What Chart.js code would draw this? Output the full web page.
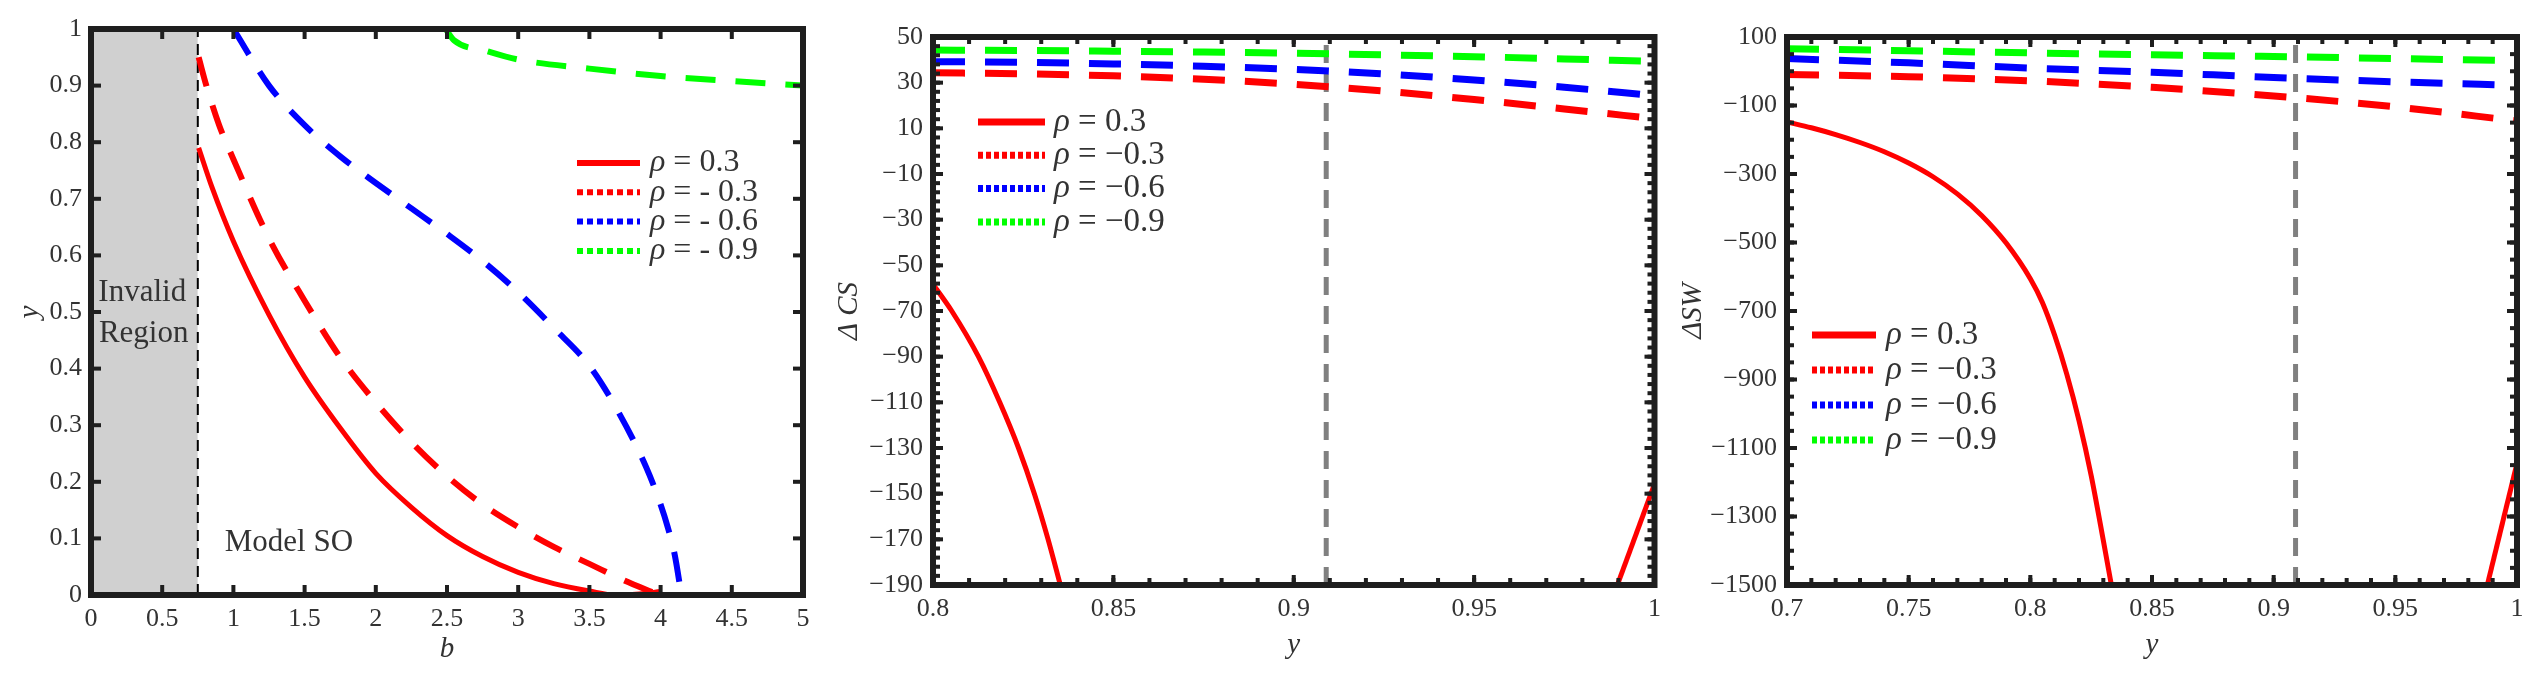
<!DOCTYPE html>
<html>
<head>
<meta charset="utf-8">
<script src="https://cdn.jsdelivr.net/npm/chart.js@4.4.0/dist/chart.umd.min.js"></script>
<style>
html, body { margin: 0; padding: 0; background: #fff; }
#wrap { position: relative; width: 2535px; height: 673px; overflow: hidden; }
.panel { position: absolute; top: 0; height: 673px; }
</style>
</head>
<body>
<div id="wrap">
  <div class="panel" style="left:0;width:820px"><canvas id="c1"></canvas></div>
  <div class="panel" style="left:820px;width:850px"><canvas id="c2"></canvas></div>
  <div class="panel" style="left:1670px;width:865px"><canvas id="c3"></canvas></div>
</div>
<script>
// ---- panel 1: y against b ----
var bTicks = [0, 0.5, 1, 1.5, 2, 2.5, 3, 3.5, 4, 4.5, 5];
var bTickLabels = ["0", "0.5", "1", "1.5", "2", "2.5", "3", "3.5", "4", "4.5", "5"];
var y1Ticks = [0, 0.1, 0.2, 0.3, 0.4, 0.5, 0.6, 0.7, 0.8, 0.9, 1];
var y1TickLabels = ["0", "0.1", "0.2", "0.3", "0.4", "0.5", "0.6", "0.7", "0.8", "0.9", "1"];
var invalidB = 0.75;

var b_p03 = [0.756, 0.85, 1.0, 1.25, 1.5, 1.75, 2.0, 2.25, 2.5, 2.75, 3.0, 3.25, 3.5, 3.68, 3.85, 4.0];
var y_p03 = [0.79, 0.72, 0.625, 0.495, 0.385, 0.295, 0.215, 0.155, 0.105, 0.068, 0.04, 0.02, 0.007, 0.0, 0.002, 0.006];
var b_m03 = [0.756, 0.81, 0.9, 1.0, 1.25, 1.5, 1.75, 2.0, 2.25, 2.5, 2.75, 3.0, 3.25, 3.5, 3.75, 3.95];
var y_m03 = [0.95, 0.9, 0.83, 0.77, 0.63, 0.52, 0.42, 0.34, 0.27, 0.21, 0.16, 0.12, 0.085, 0.055, 0.025, 0.004];
var b_m06 = [1.0, 1.25, 1.5, 1.75, 2.0, 2.25, 2.5, 2.75, 3.0, 3.25, 3.5, 3.7, 3.9, 4.0, 4.05, 4.1, 4.146];
var y_m06 = [1.0, 0.9, 0.83, 0.775, 0.728, 0.683, 0.638, 0.59, 0.535, 0.472, 0.405, 0.325, 0.225, 0.16, 0.12, 0.07, 0.0];
var b_m09 = [2.49, 2.55, 2.78, 3.0, 3.5, 4.0, 4.5, 5.0];
var y_m09 = [1.0, 0.98, 0.961, 0.946, 0.93, 0.917, 0.908, 0.9];

// ---- panel 2: delta CS against y ----
var x2Ticks = [0.8, 0.85, 0.9, 0.95, 1];
var x2TickLabels = ["0.8", "0.85", "0.9", "0.95", "1"];
var cs2Ticks = [-190, -170, -150, -130, -110, -90, -70, -50, -30, -10, 10, 30, 50];
var cs2TickLabels = ["\u2212190", "\u2212170", "\u2212150", "\u2212130", "\u2212110", "\u221290", "\u221270", "\u221250", "\u221230", "\u221210", "10", "30", "50"];
var yGrid2 = [0.8, 0.825, 0.85, 0.875, 0.9, 0.925, 0.95, 0.975, 1.0];
var cs_m03 = [34.3, 33.9, 33.0, 31.5, 29.3, 26.3, 22.6, 18.5, 14.2];
var cs_m06 = [39.2, 38.9, 38.2, 37.2, 35.8, 33.8, 31.2, 28.0, 24.3];
var cs_m09 = [44.3, 44.1, 43.8, 43.4, 42.9, 42.2, 41.4, 40.4, 39.3];
var yA_p03 = [0.8, 0.8052, 0.8126, 0.8185, 0.8237, 0.8281, 0.8319, 0.8353];
var csA_p03 = [-58.3, -70, -90, -110, -130, -150, -170, -190];
var yB_p03 = [0.9897, 1.0];
var csB_p03 = [-190, -145.8];

// ---- panel 3: delta SW against y ----
var x3Ticks = [0.7, 0.75, 0.8, 0.85, 0.9, 0.95, 1];
var x3TickLabels = ["0.7", "0.75", "0.8", "0.85", "0.9", "0.95", "1"];
var sw3Ticks = [-1500, -1300, -1100, -900, -700, -500, -300, -100, 100];
var sw3TickLabels = ["\u22121500", "\u22121300", "\u22121100", "\u2212900", "\u2212700", "\u2212500", "\u2212300", "\u2212100", "100"];
var yGrid3 = [0.7, 0.75, 0.8, 0.85, 0.9, 0.95, 1.0];
var sw_m03 = [-9.4, -16, -28, -47, -72, -104, -145];
var sw_m06 = [37, 24.5, 9.4, -3, -18, -31, -41];
var sw_m09 = [66, 60, 53.5, 48, 43, 37, 31];
var yA3_p03 = [0.7, 0.71, 0.72, 0.73, 0.74, 0.75, 0.76, 0.77, 0.78, 0.79, 0.8, 0.805, 0.81, 0.815, 0.82, 0.825, 0.83, 0.8333];
var swA_p03 = [-148, -165, -185, -208, -235, -268, -308, -358, -421, -501, -606, -676, -771, -885, -1020, -1180, -1370, -1500];
var yB3_p03 = [0.9878, 1.0];
var swB_p03 = [-1500, -1145];

var markY = 0.909;

var rhoLabels1 = ["\u03c1 = 0.3", "\u03c1 = - 0.3", "\u03c1 = - 0.6", "\u03c1 = - 0.9"];
var rhoLabels = ["\u03c1 = 0.3", "\u03c1 = \u22120.3", "\u03c1 = \u22120.6", "\u03c1 = \u22120.9"];

var RED = "#ff0000", BLUE = "#0000ff", GREEN = "#00ff00";
var SERIF = "'Liberation Serif', 'Times New Roman', serif";

function pts(xs, ys) {
  return xs.map(function (x, i) { return { x: x, y: ys[i] }; });
}

function curve(xs, ys, color, width, dash) {
  return {
    data: pts(xs, ys),
    showLine: true,
    borderColor: color,
    backgroundColor: color,
    borderWidth: width,
    borderDash: dash || [],
    pointRadius: 0,
    cubicInterpolationMode: "monotone",
    fill: false
  };
}

function axis(min, max, ticks, labels, size, horiz, title, titlePad, labelPad) {
  return {
    type: "linear",
    min: min,
    max: max,
    afterBuildTicks: function (s) {
      s.ticks = ticks.map(function (v) { return { value: v }; });
    },
    afterFit: function (s) {
      if (horiz) s.height = size; else s.width = size;
    },
    grid: { display: false, drawTicks: false },
    border: { display: false },
    ticks: {
      autoSkip: false,
      maxRotation: 0,
      padding: labelPad,
      color: "#333",
      font: { family: SERIF, size: 26 },
      callback: function (v, i) { return labels[i]; }
    },
    title: {
      display: true,
      text: title,
      color: "#333",
      padding: titlePad,
      font: { family: SERIF, size: 29, style: "italic" }
    }
  };
}

// thick box with inward ticks on all four sides
var framePlugin = {
  id: "frame",
  afterDraw: function (chart) {
    var o = chart.options.plugins.frame;
    var a = chart.chartArea, ctx = chart.ctx;
    var xs = chart.scales.x, ys = chart.scales.y;
    ctx.save();
    ctx.fillStyle = "#1e1e1e";
    function xt(v, len) {
      var p = xs.getPixelForValue(v);
      ctx.fillRect(p - 2, a.bottom - len, 4, len);
      ctx.fillRect(p - 2, a.top, 4, len);
    }
    function yt(v, len) {
      var p = ys.getPixelForValue(v);
      ctx.fillRect(a.left, p - 2, len, 4);
      ctx.fillRect(a.right - len, p - 2, len, 4);
    }
    var v;
    if (o.xMinor) for (v = xs.min; v <= xs.max + 1e-9; v += o.xMinor) xt(v, 7);
    if (o.yMinor) for (v = ys.min; v <= ys.max + 1e-9; v += o.yMinor) yt(v, 7);
    o.xMajor.forEach(function (t) { xt(t, 10); });
    o.yMajor.forEach(function (t) { yt(t, 10); });
    ctx.strokeStyle = "#1e1e1e";
    ctx.lineWidth = 6;
    ctx.strokeRect(a.left, a.top, a.right - a.left, a.bottom - a.top);
    ctx.restore();
  }
};

// legend drawn inside the plot box
var rhoLegendPlugin = {
  id: "rhoLegend",
  afterDatasetsDraw: function (chart) {
    var o = chart.options.plugins.rhoLegend;
    var a = chart.chartArea, ctx = chart.ctx;
    ctx.save();
    o.labels.forEach(function (lab, i) {
      var y = a.top + o.top + i * o.row;
      var x0 = a.left + o.left;
      ctx.beginPath();
      ctx.setLineDash(o.dashes[i]);
      ctx.lineWidth = o.width;
      ctx.strokeStyle = o.colors[i];
      ctx.moveTo(x0, y);
      ctx.lineTo(x0 + o.len, y);
      ctx.stroke();
      ctx.setLineDash([]);
      ctx.fillStyle = "#333";
      ctx.textBaseline = "middle";
      ctx.textAlign = "left";
      var tx = x0 + o.len + o.gap;
      ctx.font = "italic " + o.size + "px " + SERIF;
      ctx.fillText(lab.charAt(0), tx, y);
      tx += ctx.measureText(lab.charAt(0)).width;
      ctx.font = o.size + "px " + SERIF;
      ctx.fillText(lab.slice(1), tx, y);
    });
    ctx.restore();
  }
};

// text notes placed at data positions
var notesPlugin = {
  id: "notes",
  afterDatasetsDraw: function (chart) {
    var o = chart.options.plugins.notes;
    if (!o || !o.items) return;
    var ctx = chart.ctx;
    ctx.save();
    ctx.fillStyle = "#333";
    ctx.textAlign = "center";
    ctx.textBaseline = "middle";
    ctx.font = o.size + "px " + SERIF;
    o.items.forEach(function (n) {
      ctx.fillText(n.text, chart.scales.x.getPixelForValue(n.x), chart.scales.y.getPixelForValue(n.y));
    });
    ctx.restore();
  }
};

Chart.register(framePlugin, rhoLegendPlugin, notesPlugin);

function baseOptions(xAx, yAx, pad) {
  return {
    responsive: true,
    maintainAspectRatio: false,
    animation: false,
    layout: { padding: pad },
    scales: { x: xAx, y: yAx },
    plugins: { legend: { display: false }, tooltip: { enabled: false } }
  };
}

// panel 1
var opt1 = baseOptions(
  axis(0, 5, bTicks, bTickLabels, 78, true, "b", { top: 0, bottom: 6 }, 9),
  axis(0, 1, y1Ticks, y1TickLabels, 91, false, "y", { top: 13, bottom: 0 }, 9),
  { left: 0, right: 17, top: 29, bottom: 0 }
);
opt1.plugins.frame = { xMajor: bTicks, yMajor: y1Ticks };
opt1.plugins.rhoLegend = {
  labels: rhoLabels1, colors: [RED, RED, BLUE, GREEN],
  dashes: [[], [6, 4], [6, 4], [6, 4]],
  left: 486, top: 134, row: 29.3, len: 63, gap: 10, width: 6, size: 32
};
opt1.plugins.notes = {
  size: 31,
  items: [
    { text: "Invalid", x: 0.36, y: 0.534 },
    { text: "Region", x: 0.37, y: 0.462 },
    { text: "Model SO", x: 1.39, y: 0.092 }
  ]
};
var ds1 = [
  curve(b_p03, y_p03, RED, 5),
  curve(b_m03, y_m03, RED, 6, [30, 20]),
  curve(b_m06, y_m06, BLUE, 6, [30, 20]),
  curve(b_m09, y_m09, GREEN, 6, [30, 20]),
  { data: pts([invalidB, invalidB], [0, 1]), showLine: true, borderColor: "#000", borderWidth: 2,
    borderDash: [11, 7], pointRadius: 0, tension: 0, fill: false },
  { data: pts([0, invalidB], [1, 1]), showLine: true, borderWidth: 0, pointRadius: 0, tension: 0,
    backgroundColor: "#d0d0d0", borderColor: "rgba(0,0,0,0)", fill: "origin" }
];
new Chart(document.getElementById("c1"), { type: "scatter", data: { datasets: ds1 }, options: opt1 });

// panel 2
var opt2 = baseOptions(
  axis(0.8, 1, x2Ticks, x2TickLabels, 88, true, "y", { top: 0, bottom: 10 }, 9),
  axis(-190, 50, cs2Ticks, cs2TickLabels, 113, false, "\u0394 CS", { top: 12, bottom: 0 }, 10),
  { left: 0, right: 7, top: 37, bottom: 0 }
);
opt2.plugins.frame = { xMajor: x2Ticks, yMajor: cs2Ticks, xMinor: 0.01, yMinor: 4 };
opt2.plugins.rhoLegend = {
  labels: rhoLabels, colors: [RED, RED, BLUE, GREEN],
  dashes: [[], [5, 3], [5, 3], [5, 3]],
  left: 45, top: 85, row: 33.3, len: 67, gap: 9, width: 7, size: 33
};
var ds2 = [
  curve(yA_p03, csA_p03, RED, 5),
  curve(yB_p03, csB_p03, RED, 5),
  curve(yGrid2, cs_m03, RED, 7, [32, 20]),
  curve(yGrid2, cs_m06, BLUE, 7, [32, 20]),
  curve(yGrid2, cs_m09, GREEN, 7, [32, 20]),
  { data: pts([markY, markY], [-190, 50]), showLine: true, borderColor: "#808080", borderWidth: 5,
    borderDash: [18, 11], pointRadius: 0, tension: 0, fill: false }
];
new Chart(document.getElementById("c2"), { type: "scatter", data: { datasets: ds2 }, options: opt2 });

// panel 3
var opt3 = baseOptions(
  axis(0.7, 1, x3Ticks, x3TickLabels, 88, true, "y", { top: 0, bottom: 10 }, 9),
  axis(-1500, 100, sw3Ticks, sw3TickLabels, 117, false, "\u0394SW", { top: 6, bottom: 0 }, 10),
  { left: 0, right: 18, top: 37, bottom: 0 }
);
opt3.plugins.frame = { xMajor: x3Ticks, yMajor: sw3Ticks, xMinor: 0.01, yMinor: 50 };
opt3.plugins.rhoLegend = {
  labels: rhoLabels, colors: [RED, RED, BLUE, GREEN],
  dashes: [[], [5, 3], [5, 3], [5, 3]],
  left: 25, top: 298, row: 35, len: 64, gap: 10, width: 7, size: 33
};
var ds3 = [
  curve(yA3_p03, swA_p03, RED, 5),
  curve(yB3_p03, swB_p03, RED, 5),
  curve(yGrid3, sw_m03, RED, 7, [32, 20]),
  curve(yGrid3, sw_m06, BLUE, 7, [32, 20]),
  curve(yGrid3, sw_m09, GREEN, 7, [32, 20]),
  { data: pts([markY, markY], [-1500, 100]), showLine: true, borderColor: "#808080", borderWidth: 5,
    borderDash: [18, 11], pointRadius: 0, tension: 0, fill: false }
];
new Chart(document.getElementById("c3"), { type: "scatter", data: { datasets: ds3 }, options: opt3 });
</script>
</body>
</html>
